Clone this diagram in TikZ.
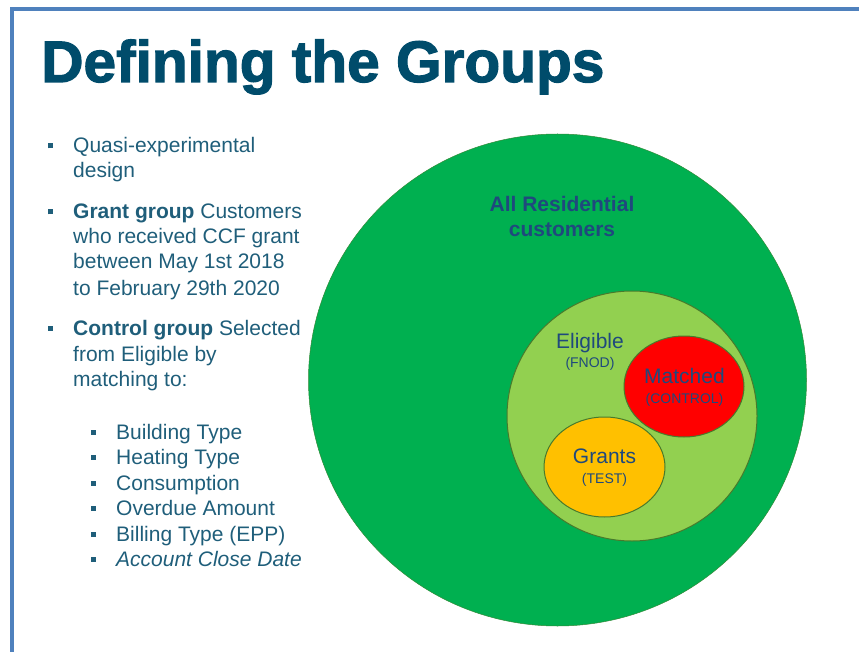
\documentclass[tikz,border=0pt]{standalone}
\usepackage{fontspec}
\setmainfont{Liberation Sans}
\newfontfamily\titlefont{Liberation Sans}[BoldFeatures={FakeBold=2}]
\definecolor{framebl}{RGB}{79,129,189}
\definecolor{titleblue}{RGB}{0,76,107}
\definecolor{bodyblue}{RGB}{31,94,122}
\definecolor{labelblue}{RGB}{31,73,125}
\definecolor{allgreen}{RGB}{0,176,80}
\definecolor{eliggreen}{RGB}{146,208,80}
\definecolor{matchred}{RGB}{255,0,0}
\definecolor{grantyel}{RGB}{255,192,0}
\definecolor{rimgreen}{RGB}{72,122,44}
\newcommand{\bulsq}{\makebox[25pt][l]{\raisebox{4.5pt}{\rule{5pt}{5pt}}}}
\tikzset{
  line/.style={anchor=base west, inner sep=0pt, text=bodyblue, font=\fontsize{21}{25}\selectfont},
  biglabel/.style={anchor=base, inner sep=0pt, text=labelblue, font=\fontsize{21}{25}\selectfont},
  smalllabel/.style={anchor=base, inner sep=0pt, text=labelblue, font=\fontsize{14}{16}\selectfont}
}
\begin{document}
\begin{tikzpicture}[x=1pt,y=-1pt]
	\useasboundingbox (0,0) rectangle (859,652);
	% slide frame
	\draw[framebl, line width=3.5pt] (12,652) -- (12,9) -- (859,9);
	% title
	\node[anchor=base west, inner sep=0pt, text=titleblue, font=\titlefont\bfseries\fontsize{58.6}{60}\selectfont] (title) at (41,82) {Defining the Groups};
	
	% left column
	\node[line] (q1) at (48,153) {\bulsq Quasi-experimental};
	\node[line] (q2) at (73,178) {design};
	\node[line] (g1) at (48,219) {\bulsq\textbf{Grant group} Customers};
	\node[line] (g2) at (73,244) {who received CCF grant};
	\node[line] (g3) at (73,269) {between May 1st 2018};
	\node[line] (g4) at (73,295) {to February 29th 2020};
	\node[line] (c1) at (48,335) {\bulsq\textbf{Control group} Selected};
	\node[line] (c2) at (73,361) {from Eligible by};
	\node[line] (c3) at (73,386) {matching to:};
	\foreach \y/\txt [count=\i] in {439/Building Type, 464/Heating Type, 490/Consumption,
		515/Overdue Amount, 541/Billing Type (EPP), 566/\textit{Account Close Date}}
		\node[line] (m\i) at (91,\y) {\bulsq\txt};
	
	% nested sets
	\filldraw[fill=allgreen, draw=rimgreen!70!allgreen, line width=0.5pt] (557.5,380) ellipse [x radius=249, y radius=246];
	\filldraw[fill=eliggreen, draw=rimgreen, line width=1pt] (632,416) circle [radius=125];
	\filldraw[fill=matchred, draw=rimgreen, line width=1pt] (684,386.5) ellipse [x radius=60, y radius=50.5];
	\filldraw[fill=grantyel, draw=rimgreen, line width=1pt] (604.5,467) ellipse [x radius=60.5, y radius=50];
	
	\node[biglabel, font=\bfseries\fontsize{21}{25}\selectfont] (allres) at (562,212) {All Residential};
	\node[biglabel, font=\bfseries\fontsize{21}{25}\selectfont] (allcust) at (562,237) {customers};
	\node[biglabel] (elig) at (590,348) {Eligible};
	\node[smalllabel] (fnod) at (590,367) {(FNOD)};
	\node[biglabel] (match) at (684.5,383) {Matched};
	\node[smalllabel] (ctrl) at (684.5,403) {(CONTROL)};
	\node[biglabel] (grant) at (604.5,463) {Grants};
	\node[smalllabel] (test) at (604.5,483) {(TEST)};
\end{tikzpicture}
\end{document}
